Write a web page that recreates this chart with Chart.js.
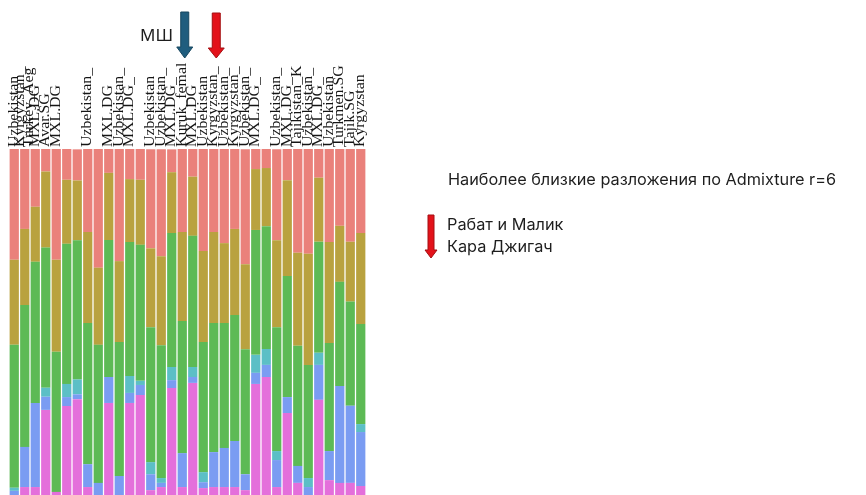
<!DOCTYPE html>
<html>
<head>
<meta charset="utf-8">
<script src="https://cdn.jsdelivr.net/npm/chart.js@4.4.0/dist/chart.umd.min.js"></script>
<style>
  html, body { margin: 0; padding: 0; background: #fff; overflow: hidden; }
  #wrap { width: 866px; height: 495px; position: relative; }
</style>
</head>
<body>
<div id="wrap"><canvas id="admixChart"></canvas></div>
<script>
// --- Data (one bar per sample, K=6 ancestry fractions in %) ---
const sampleLabels = [
  "Uzbekistan", ["Kyrgyzstan_", "Turkey_Aeg"], "MXL.DG", "Avar.SG", "MXL.DG", "", "",
  "Uzbekistan_", "", "MXL.DG", "Uzbekistan_", "MXL.DG_", "", "Uzbekistan", "Uzbekistan_",
  "MXL.DG_", "Kuruk_femal", "MXL.DG", "Uzbekistan", "Kyrgyzstan_", "Uzbekistan_",
  "Kyrgyzstan_", "Uzbekistan_", "MXL.DG_", "", "Uzbekistan_", "MXL.DG_", "Tajikistan_K",
  "Uzbekistan_", "MXL.DG_", "Uzbekistan", "Turkmen.SG", "Tajik.SG", "Kyrgyzstan"
];

const salmonK = [32.1, 23.1, 16.8, 6.6, 32.1, 9.0, 9.0, 24.0, 34.4, 6.9, 32.4, 8.7, 9.0, 28.6, 30.9, 6.6, 24.0, 8.1, 29.5, 24.0, 27.2, 23.1, 33.2, 5.8, 5.5, 26.3, 9.0, 30.1, 30.3, 8.4, 26.9, 22.3, 26.9, 24.3];
const oliveK  = [24.6, 22.0, 15.9, 22.0, 26.6, 18.5, 17.3, 26.3, 22.3, 19.4, 23.4, 18.2, 18.8, 22.8, 25.7, 17.6, 25.7, 17.1, 26.3, 26.3, 23.1, 24.9, 24.6, 17.6, 16.8, 25.1, 27.7, 26.9, 32.1, 18.5, 29.2, 16.2, 17.3, 26.3];
const greenK  = [41.3, 41.0, 40.8, 40.5, 40.5, 40.5, 40.2, 40.8, 39.9, 39.6, 38.7, 38.7, 39.3, 39.0, 38.4, 38.7, 38.2, 37.9, 37.6, 37.3, 36.1, 36.4, 36.1, 36.1, 35.5, 35.8, 35.0, 34.7, 32.7, 32.1, 31.2, 30.1, 30.1, 28.9];
const tealK   = [0.9, 0, 0, 2.6, 0, 3.8, 4.3, 0, 0, 0, 0, 4.9, 1.2, 3.5, 1.4, 3.8, 0, 2.9, 2.9, 0, 0, 0, 0, 5.2, 4.6, 2.6, 0, 0, 2.6, 3.5, 0, 0, 0, 2.3];
const blueK   = [1.2, 11.6, 24.3, 3.8, 0, 2.6, 1.4, 6.6, 3.5, 7.5, 5.5, 2.9, 2.9, 4.6, 1.2, 2.3, 9.8, 1.7, 1.7, 10.1, 11.3, 13.3, 4.6, 3.2, 3.5, 7.8, 4.6, 4.9, 2.3, 10.1, 8.4, 28.0, 22.3, 15.6];
const magentaK = [0, 2.3, 2.3, 24.6, 0.9, 25.7, 27.7, 2.3, 0, 26.6, 0, 26.6, 28.9, 1.4, 2.3, 30.9, 2.3, 32.4, 2.0, 2.3, 2.3, 2.3, 1.4, 32.1, 34.1, 2.3, 23.7, 3.5, 0, 27.5, 4.3, 3.5, 3.5, 2.6];

// marked samples (index into sampleLabels)
const markMSh = 16;
const markRabat = 19;

const titleText = "Наиболее близкие разложения по Admixture r=6";
const legendLines = ["Рабат и Малик", "Кара Джигач"];

// --- Helpers ---
function drawArrow(ctx, cx, yTop, yTip, shaftW, headW, headH, fill, edge) {
  ctx.save();
  ctx.beginPath();
  ctx.moveTo(cx - shaftW / 2, yTop);
  ctx.lineTo(cx + shaftW / 2, yTop);
  ctx.lineTo(cx + shaftW / 2, yTip - headH);
  ctx.lineTo(cx + headW / 2, yTip - headH);
  ctx.lineTo(cx, yTip);
  ctx.lineTo(cx - headW / 2, yTip - headH);
  ctx.lineTo(cx - shaftW / 2, yTip - headH);
  ctx.closePath();
  ctx.fillStyle = fill;
  ctx.fill();
  ctx.strokeStyle = edge;
  ctx.lineWidth = 1;
  ctx.stroke();
  ctx.restore();
}

// --- Overlay: rotated sample names, arrows, notes ---
const overlay = {
  id: "overlay",
  afterDraw(chart) {
    const { ctx, chartArea, scales: { x } } = chart;

    ctx.save();
    ctx.fillStyle = "#151515";
    ctx.font = '14px "Liberation Serif"';
    ctx.textBaseline = "middle";
    ctx.textAlign = "left";
    sampleLabels.forEach((lab, i) => {
      const lines = Array.isArray(lab) ? lab : [lab];
      const cx = x.getPixelForValue(i);
      lines.forEach((t, j) => {
        const lx = cx + (j - (lines.length - 1) / 2) * 8.5;
        ctx.save();
        ctx.translate(lx, chartArea.top - 2);
        ctx.rotate(-Math.PI / 2);
        ctx.scale(1.13, 1);
        ctx.fillText(t, 0, 0);
        ctx.restore();
      });
    });
    ctx.restore();

    // arrows over the marked samples
    drawArrow(ctx, x.getPixelForValue(markMSh) + 2.5, 12, 58, 8, 16, 11, "#1f5d7e", "#17475f");
    drawArrow(ctx, x.getPixelForValue(markRabat) + 2.5, 13, 58, 8, 16, 10, "#e3121a", "#a40f12");

    ctx.save();
    ctx.fillStyle = "#1e1e1e";
    ctx.font = '17px "Noto Sans"';
    ctx.textBaseline = "alphabetic";
    ctx.fillText("МШ", 140, 41);

    ctx.font = '16.3px "Inter"';
    ctx.fillText(titleText, 448, 185);
    ctx.fillText(legendLines[0], 447, 230);
    ctx.fillText(legendLines[1], 447, 252);
    ctx.restore();

    drawArrow(ctx, 431, 215, 258, 6, 12, 8, "#e3121a", "#a40f12");
  }
};

// --- Chart ---
const ctx = document.getElementById("admixChart").getContext("2d");
const mk = (label, data, color) => ({
  label, data,
  backgroundColor: color,
  borderWidth: 0,
  barPercentage: 0.88,
  categoryPercentage: 1.0
});

new Chart(ctx, {
  type: "bar",
  data: {
    labels: sampleLabels,
    datasets: [
      mk("K6", magentaK, "#e46fdb"),
      mk("K5", blueK, "#7a9cf2"),
      mk("K4", tealK, "#5cbfc6"),
      mk("K3", greenK, "#5dba55"),
      mk("K2", oliveK, "#b9a23f"),
      mk("K1", salmonK, "#ea817b")
    ]
  },
  options: {
    responsive: true,
    maintainAspectRatio: false,
    animation: false,
    layout: { padding: { left: 9, right: 500, top: 149, bottom: 0 } },
    plugins: {
      legend: { display: false },
      tooltip: { enabled: false }
    },
    scales: {
      x: { stacked: true, display: false },
      y: { stacked: true, display: false, min: 0, max: 100 }
    }
  },
  plugins: [overlay]
});
</script>
</body>
</html>
